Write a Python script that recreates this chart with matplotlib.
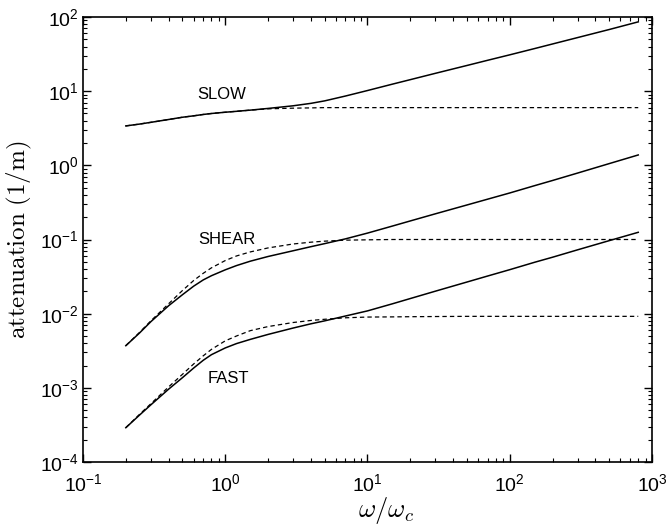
import matplotlib
matplotlib.use('Agg')
import matplotlib.pyplot as plt
from matplotlib.ticker import LogLocator, NullFormatter

# frequency ratio w/wc where the curves were read
freq = [0.2, 0.25, 0.3, 0.4, 0.5, 0.6, 0.7, 0.8, 1, 1.2, 1.5, 2, 3, 4, 5, 7,
        10, 15, 20, 30, 50, 70, 100, 150, 200, 300, 500, 800]

# full (solid) attenuation curves, 1/m
slow_full = [3.4, 3.6, 3.8, 4.15, 4.45, 4.65, 4.85, 5.0, 5.2, 5.35, 5.55, 5.85, 6.35, 6.85, 7.4, 8.6,
             10.2, 12.45, 14.3, 17.4, 22.2, 26.1, 30.9, 37.6, 43.3, 52.8, 67.8, 86]
shear_full = [3.7e-3, 5.5e-3, 7.8e-3, 0.0128, 0.018, 0.0235, 0.0285, 0.0325, 0.039, 0.0445,
              0.051, 0.059, 0.0705, 0.080, 0.088, 0.102,
              0.122, 0.152, 0.178, 0.222, 0.292, 0.35, 0.424, 0.533, 0.625, 0.787, 1.055, 1.38]
fast_full = [2.9e-4, 4.3e-4, 5.9e-4, 9.6e-4, 1.37e-3, 1.85e-3, 2.35e-3, 2.8e-3, 3.45e-3, 3.95e-3,
             4.5e-3, 5.25e-3, 6.4e-3, 7.3e-3, 8.0e-3, 9.3e-3,
             0.0109, 0.0136, 0.016, 0.0201, 0.0267, 0.0322, 0.0392, 0.0494, 0.0577, 0.0726, 0.0965, 0.125]

# low-frequency (dashed) approximations
slow_low = [3.4, 3.6, 3.8, 4.15, 4.45, 4.65, 4.85, 5.0, 5.2, 5.35, 5.55, 5.78, 5.9, 5.95, 6.0, 6.0,
            6.0, 6.0, 6.0, 6.0, 6.0, 6.0, 6.0, 6.0, 6.0, 6.0, 6.0, 6.0]
shear_low = [3.7e-3, 5.6e-3, 8.0e-3, 0.0136, 0.0205, 0.028, 0.035, 0.0415, 0.052, 0.060,
             0.068, 0.077, 0.087, 0.092, 0.095, 0.098,
             0.099, 0.1, 0.1, 0.1, 0.1, 0.1, 0.1, 0.1, 0.1, 0.1, 0.1, 0.1]
fast_low = [2.9e-4, 4.4e-4, 6.1e-4, 1.03e-3, 1.52e-3, 2.1e-3, 2.7e-3, 3.3e-3, 4.3e-3, 5.0e-3,
            5.9e-3, 6.7e-3, 7.6e-3, 8.1e-3, 8.4e-3, 8.8e-3,
            9.0e-3, 9.05e-3, 9.1e-3, 9.15e-3, 9.2e-3, 9.2e-3, 9.2e-3, 9.2e-3, 9.2e-3, 9.2e-3, 9.2e-3, 9.2e-3]

wave_names = ["SLOW", "SHEAR", "FAST"]
label_pos = [(0.95, 8.9), (1.03, 0.099), (1.045, 1.32e-3)]

plt.rcParams['font.family'] = ['Liberation Sans', 'DejaVu Sans']
plt.rcParams['mathtext.fontset'] = 'cm'

fig = plt.figure(figsize=(6.66, 5.28), dpi=100)
ax = fig.add_axes([0.1246, 0.125, 0.8544, 0.8428])

for full, low in [(slow_full, slow_low), (shear_full, shear_low), (fast_full, fast_low)]:
    ax.plot(freq, full, color='black', linewidth=1.1)
    ax.plot(freq, low, color='black', linewidth=0.9, dashes=(3.5, 2.5))

for name, (x, y) in zip(wave_names, label_pos):
    ax.text(x, y, name, fontsize=12, ha='center', va='center')

ax.set_xscale('log')
ax.set_yscale('log')
ax.set_xlim(0.1, 1000)
ax.set_ylim(1e-4, 100)

ax.xaxis.set_major_locator(LogLocator(base=10, numticks=10))
ax.yaxis.set_major_locator(LogLocator(base=10, numticks=10))
ax.xaxis.set_minor_locator(LogLocator(base=10, subs=range(2, 10), numticks=20))
ax.yaxis.set_minor_locator(LogLocator(base=10, subs=range(2, 10), numticks=20))
ax.xaxis.set_minor_formatter(NullFormatter())
ax.yaxis.set_minor_formatter(NullFormatter())

ax.tick_params(which='both', direction='in', top=True, right=True, labelsize=14)
ax.tick_params(which='major', length=6, width=1)
ax.tick_params(which='minor', length=3, width=0.8)
ax.tick_params(axis='x', which='major', pad=8)
ax.tick_params(axis='y', which='major', pad=3)
for sp in ax.spines.values():
    sp.set_linewidth(1.2)

ax.set_xlabel(r'$\omega/\omega_c$', fontsize=19)
ax.xaxis.set_label_coords(0.533, -0.074)
ax.set_ylabel(r'$\mathrm{attenuation\ (1/m)}$', fontsize=18, labelpad=4)

fig.savefig('out.png', dpi=100)
